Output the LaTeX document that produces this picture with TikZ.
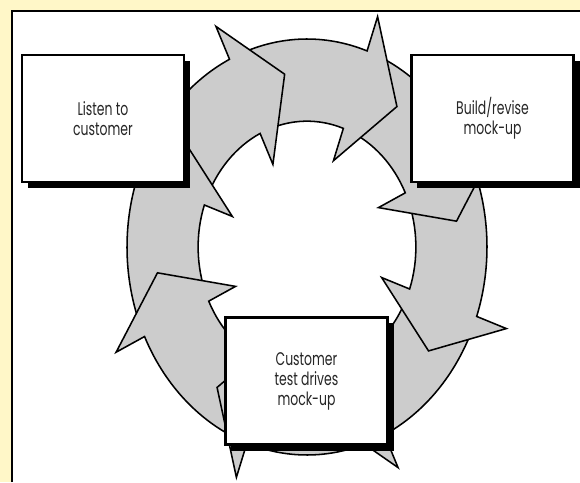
\documentclass[tikz,border=0pt]{standalone}
\usepackage{fontspec}
\setmainfont{Poppins}[FakeStretch=0.68]
\usetikzlibrary{positioning,shadows}
\definecolor{ringgray}{RGB}{204,204,204}
\definecolor{pageyellow}{RGB}{255,247,200}

\begin{document}
\begin{tikzpicture}[x=0.025cm,y=0.025cm,
	boxnode/.style={draw,line width=1.8pt,fill=white,
		minimum width=4.05cm,minimum height=3.175cm,align=center,
		font=\fontsize{13}{14.2}\selectfont,text=black!85,
		general shadow={fill=black,shadow xshift=0.15cm,shadow yshift=-0.15cm}},
	arrowpiece/.style={draw,line width=1.1pt,fill=ringgray},
	]
	
	% the page
	\useasboundingbox (0,0) rectangle (580,482);
	\fill[pageyellow] (0,0) rectangle (580,482);
	\fill[white] (12,0) rectangle (580,471);
	\draw[line width=0.8pt] (12,0) -- (12,471) -- (580,471);
	
	% the ring of arrows
	\begin{scope}[shift={(307,235)},xscale=180,yscale=208]
	\foreach \a in {-64.5,-19.5,...,250.5}
	\draw[arrowpiece] (\a+42:1) arc[start angle=\a+42,end angle=\a,radius=1]
		-- (\a:1.175) -- (\a-17:0.84) -- (\a:0.44) -- (\a:0.605)
		arc[start angle=\a,end angle=\a+42,radius=0.605] -- cycle;
	\end{scope}
	
	% the boxes
	\node[boxnode] (listen) at (103,363.5) {Listen to\\customer};
	\node[boxnode] (build) at (492.5,363.5) {Build/revise\\mock-up};
	\node[boxnode] (test) at (306.5,101) {Customer\\test drives\\mock-up};
\end{tikzpicture}
\end{document}
